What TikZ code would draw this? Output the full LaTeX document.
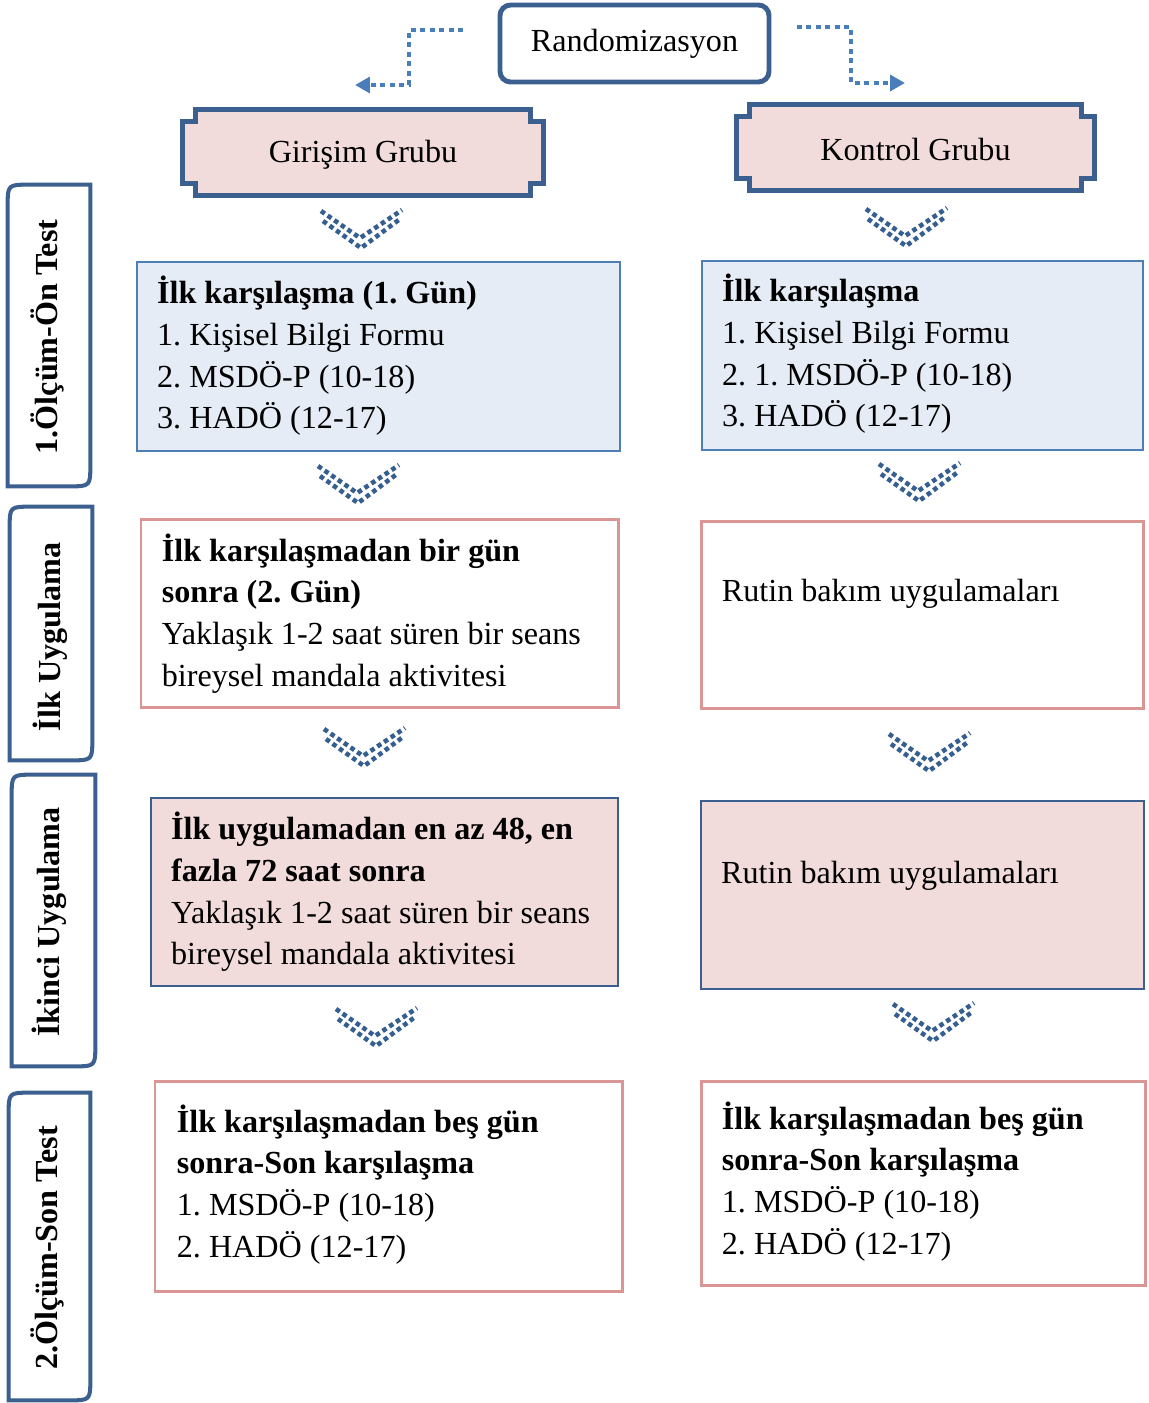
\documentclass[tikz,border=0pt]{standalone}
\usepackage{fontspec}
\setmainfont{Liberation Serif}
\usetikzlibrary{calc,fit,arrows.meta,backgrounds}
\frenchspacing

\definecolor{frameblue}{HTML}{3B5F8E}
\definecolor{boxblue}{HTML}{4F7DB8}
\definecolor{bluefill}{HTML}{E5ECF6}
\definecolor{pinkline}{HTML}{D99694}
\definecolor{pinkfill}{HTML}{F2DCDB}
\definecolor{chevblue}{HTML}{365F91}
\definecolor{arrowblue}{HTML}{4A7EBB}

% frame with square notches at the corners
\newcommand{\notchframe}[1]{%
  \filldraw[grpline] ($(#1.north west)+(13,0)$) -- ($(#1.north east)+(-13,0)$) -- ++(0,12) -- ++(13,0)
    -- ($(#1.south east)+(0,-12)$) -- ++(-13,0) -- ++(0,12) -- ($(#1.south west)+(13,0)$)
    -- ++(0,-12) -- ++(-13,0) -- ($(#1.north west)+(0,12)$) -- ++(13,0) -- cycle;}
% side tab, two corners rounded
\newcommand{\tabframe}[1]{%
  \draw[tabline] (#1.south west) -- ($(#1.north west)+(0,22)$) .. controls (#1.north west) .. ($(#1.north west)+(22,0)$)
    -- (#1.north east) -- ($(#1.south east)+(0,-22)$) .. controls (#1.south east) .. ($(#1.south east)+(-22,0)$) -- cycle;}

\begin{document}
\begin{tikzpicture}[
    x=0.02cm, y=-0.02cm,
    every node/.style={font=\fontsize{18.3}{23.8}\selectfont},
    randbox/.style={draw=frameblue, line width=2.8pt, rounded corners=6pt, inner sep=0pt},
    grp/.style={inner sep=0pt},
    grpline/.style={draw=frameblue, fill=pinkfill, line width=2.8pt},
    bluebox/.style={draw=boxblue, fill=bluefill, line width=1.4pt, inner sep=0pt},
    pinkbox/.style={draw=pinkline, fill=white, line width=1.7pt, inner sep=0pt},
    rosebox/.style={draw=frameblue, fill=pinkfill, line width=1.4pt, inner sep=0pt},
    boxtext/.style={anchor=north west, inner sep=0pt, align=left},
    tabline/.style={draw=frameblue, line width=2.3pt},
    tabtext/.style={rotate=90, font=\fontsize{18.3}{23.8}\selectfont\bfseries},
    chevline/.style={chevblue, line width=2.6pt, dash pattern=on 2.6pt off 2.0pt},
    randarrow/.style={arrowblue, line width=2.6pt, dash pattern=on 2.8pt off 2.6pt, -{Triangle[length=8.5pt,width=9pt]}},
    chev/.pic={
      \draw[chevline] (-39,-27) -- (0,0) -- (42,-28);
      \draw[chevline] (-37,-17) -- (1,10) -- (40,-19);
    }
]
    \useasboundingbox (0,0) rectangle (1149,1403);

    % Randomization
    \node[randbox, fit={(500,5) (769,82)}] (rand) {};
    \node (randtxt) at (rand.center) {Randomizasyon};
    \coordinate (lstart) at (463,30);
    \coordinate (lend) at (355,85);
    \coordinate (rstart) at (797,27);
    \coordinate (rend) at (905,83);
    \draw[randarrow] (lstart) -| ($(lstart)!0.5!(lend)$) |- (lend);
    \draw[randarrow] (rstart) -| ($(rstart)!0.5!(rend)$) |- (rend);

    % Groups
    \node[grp, fit={(183,110) (543,195)}] (girisim) {};
    \node[grp, fit={(737,105) (1094,190)}] (kontrol) {};
    \notchframe{girisim}
    \notchframe{kontrol}
    \node (girisimtxt) at ($(girisim.center)+(0,2)$) {Girişim Grubu};
    \node (kontroltxt) at ($(kontrol.center)+(0,2)$) {Kontrol Grubu};

    % Side tabs
    \node[grp, fit={(8,185) (90,486)}] (tab1) {};
    \node[grp, fit={(10,507) (92,760)}] (tab2) {};
    \node[grp, fit={(12,775) (95,1066)}] (tab3) {};
    \node[grp, fit={(9,1093) (90,1400)}] (tab4) {};
    \tabframe{tab1}
    \tabframe{tab2}
    \tabframe{tab3}
    \tabframe{tab4}
    \node[tabtext] (tab1txt) at (47,337) {1.Ölçüm-Ön Test};
    \node[tabtext] (tab2txt) at (50,637) {İlk Uygulama};
    \node[tabtext] (tab3txt) at (49,922) {İkinci Uygulama};
    \node[tabtext] (tab4txt) at (47,1248) {2.Ölçüm-Son Test};

    % Pre-test
    \node[bluebox, fit={(137,262) (620,451)}] (g1) {};
    \node[boxtext] (g1txt) at ($(g1.north west)+(21,13)$)
        {\strut\textbf{İlk karşılaşma (1. Gün)}\\1. Kişisel Bilgi Formu\\2. MSDÖ-P (10-18)\\3. HADÖ (12-17)};
    \node[bluebox, fit={(702,261) (1143,450)}] (k1) {};
    \node[boxtext] (k1txt) at ($(k1.north west)+(21,12)$)
        {\strut\textbf{İlk karşılaşma}\\1. Kişisel Bilgi Formu\\2. 1. MSDÖ-P (10-18)\\3. HADÖ (12-17)};

    % First application
    \node[pinkbox, fit={(141,519) (618,707)}] (g2) {};
    \node[boxtext] (g2txt) at ($(g2.north west)+(22,14)$)
        {\strut\textbf{İlk karşılaşmadan bir gün}\\\textbf{sonra (2. Gün)}\\Yaklaşık 1-2 saat süren bir seans\\bireysel mandala aktivitesi};
    \node[pinkbox, fit={(701,521) (1143,708)}] (k2) {};
    \node[boxtext] (k2txt) at ($(k2.north west)+(22,52)$) {\strut Rutin bakım uygulamaları};

    % Second application
    \node[rosebox, fit={(151,798) (618,986)}] (g3) {};
    \node[boxtext] (g3txt) at ($(g3.north west)+(21,13)$)
        {\strut\textbf{İlk uygulamadan en az 48, en}\\\textbf{fazla 72 saat sonra}\\Yaklaşık 1-2 saat süren bir seans\\bireysel mandala aktivitesi};
    \node[rosebox, fit={(701,801) (1144,989)}] (k3) {};
    \node[boxtext] (k3txt) at ($(k3.north west)+(21,54)$) {\strut Rutin bakım uygulamaları};

    % Post-test
    \node[pinkbox, fit={(155,1081) (622,1291)}] (g4) {};
    \node[boxtext] (g4txt) at ($(g4.north west)+(23,23)$)
        {\strut\textbf{İlk karşılaşmadan beş gün}\\\textbf{sonra-Son karşılaşma}\\1. MSDÖ-P (10-18)\\2. HADÖ (12-17)};
    \node[pinkbox, fit={(701,1081) (1145,1285)}] (k4) {};
    \node[boxtext] (k4txt) at ($(k4.north west)+(22,20)$)
        {\strut\textbf{İlk karşılaşmadan beş gün}\\\textbf{sonra-Son karşılaşma}\\1. MSDÖ-P (10-18)\\2. HADÖ (12-17)};

    % Chevrons
    \pic at (360,238) {chev};
    \pic at (905,236) {chev};
    \pic at (357,493) {chev};
    \pic at (918,491) {chev};
    \pic at (363,756) {chev};
    \pic at (928,761) {chev};
    \pic at (375,1036) {chev};
    \pic at (932,1031) {chev};
\end{tikzpicture}
\end{document}
